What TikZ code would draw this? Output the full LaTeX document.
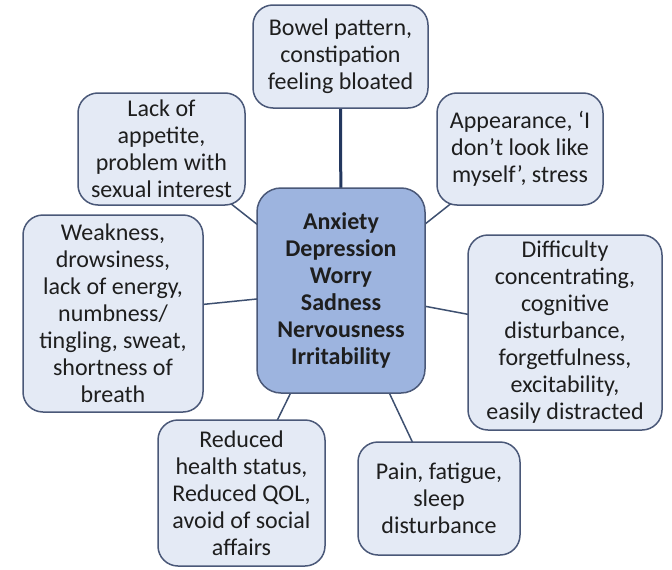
\documentclass[tikz,border=0pt]{standalone}
\usepackage{fontspec}
\setmainfont{Carlito}
\usetikzlibrary{backgrounds}
\definecolor{boxfill}{HTML}{E4EAF5}
\definecolor{ctrfill}{HTML}{9DB4DF}
\definecolor{boxline}{HTML}{4A5878}
\definecolor{linkcol}{HTML}{3E5070}
\definecolor{toplink}{HTML}{23375E}
\definecolor{txt}{HTML}{1E1E1E}
\tikzset{
  sbox/.style={draw=boxline, line width=1.5pt, fill=boxfill, rounded corners=20pt,
    align=center, inner sep=0pt, text=txt,
    font=\fontsize{24}{27}\selectfont},
  cbox/.style={sbox, fill=ctrfill, rounded corners=24pt,
    font=\fontsize{24}{27}\selectfont\bfseries},
  link/.style={draw=linkcol, line width=1.5pt},
  toplinkstyle/.style={draw=toplink, line width=3pt}
}
\begin{document}
\begin{tikzpicture}[x=1pt,y=-1pt]
\useasboundingbox (0,0) rectangle (672,570);
\node[cbox, minimum width=168pt, minimum height=205pt] (ctr) at (341,290.5)
  {Anxiety\\Depression\\Worry\\Sadness\\Nervousness\\Irritability};
\node[sbox, minimum width=175pt, minimum height=103pt] (bowel) at (340.5,56.5)
  {Bowel pattern,\\constipation\\feeling bloated};
\node[sbox, minimum width=167pt, minimum height=112pt] (lack) at (161.5,149)
  {Lack of\\appetite,\\problem with\\sexual interest};
\node[sbox, minimum width=166pt, minimum height=112pt] (appear) at (520,149)
  {Appearance, ‘I\\don’t look like\\myself’, stress};
\node[sbox, minimum width=180pt, minimum height=197pt] (weak) at (113,313.5)
  {Weakness,\\drowsiness,\\lack of energy,\\numbness/\\tingling, sweat,\\shortness of\\breath};
\node[sbox, minimum width=194pt, minimum height=195pt] (diff) at (565,332.5)
  {Difficulty\\concentrating,\\cognitive\\disturbance,\\forgetfulness,\\excitability,\\easily distracted};
\node[sbox, minimum width=167pt, minimum height=146pt] (reduced) at (241.5,493)
  {Reduced\\health status,\\Reduced QOL,\\avoid of social\\affairs};
\node[sbox, minimum width=162pt, minimum height=113pt] (pain) at (439,498.5)
  {Pain, fatigue,\\sleep\\disturbance};
\begin{scope}[on background layer]
  \draw[toplinkstyle] (bowel.center) -- (ctr.center);
  \draw[link] (lack.center) -- (ctr.center);
  \draw[link] (appear.center) -- (ctr.center);
  \draw[link] (weak.center) -- (ctr.center);
  \draw[link] (diff.center) -- (ctr.center);
  \draw[link] (reduced.center) -- (ctr.center);
  \draw[link] (pain.center) -- (ctr.center);
\end{scope}
\end{tikzpicture}
\end{document}
